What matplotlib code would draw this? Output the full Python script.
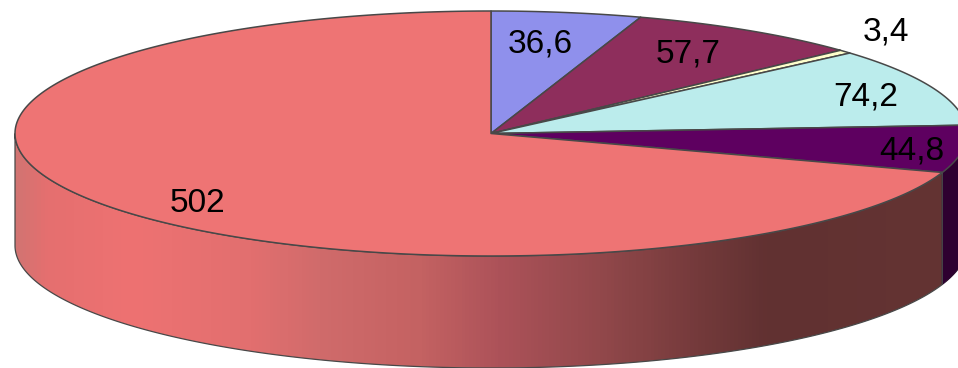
import numpy as np
import matplotlib
matplotlib.use("Agg")
import matplotlib.pyplot as plt
from matplotlib.patches import Polygon
from matplotlib.colors import LinearSegmentedColormap

labels = ["36,6", "57,7", "3,4", "74,2", "44,8", "502"]
values = [36.6, 57.7, 3.4, 74.2, 44.8, 502.0]
colors = ["#8F90EC", "#8E2E5C", "#FFFFCC", "#BBECEC", "#5E0060", "#EE7474"]
label_xy = [(540, 44), (688, 54), (886, 32), (866, 97), (912, 151), (197, 203)]

CX, CY, RX, RY, DEPTH = 491.0, 133.5, 476.0, 122.5, 112.0
EDGE = "#484848"

plt.rcParams["font.family"] = ["Liberation Sans", "DejaVu Sans"]
fig = plt.figure(figsize=(9.58, 3.68), dpi=100)
ax = fig.add_axes([0, 0, 1, 1])
ax.set_xlim(0, 958)
ax.set_ylim(368, 0)
ax.axis("off")


def rim(a0, a1, dy=0.0):
    t = np.radians(np.linspace(a0, a1, max(int(abs(a1 - a0) * 4), 2)))
    return np.column_stack([CX + RX * np.sin(t), CY + dy - RY * np.cos(t)])


edges = np.concatenate([[0], np.cumsum(values)]) / np.sum(values) * 360

# Side walls: each visible front arc between 90 and 270 degrees
for i, col in enumerate(colors):
    a0, a1 = max(edges[i], 90.0), min(edges[i + 1], 270.0)
    if a1 <= a0:
        continue
    pts = np.vstack([rim(a0, a1), rim(a0, a1, DEPTH)[::-1]])
    if i == len(colors) - 1:
        stops = [(15, "#d27472"), (45, "#e56f6f"), (130, "#ee7272"), (250, "#e26f6f"),
                 (320, "#d06b6b"), (420, "#c46262"), (500, "#ac5259"), (600, "#92484b"),
                 (700, "#743a3b"), (770, "#613131"), (945, "#643433")]
        cmap = LinearSegmentedColormap.from_list(
            "wall", [((x - 15) / 930, c) for x, c in stops])
        poly = Polygon(pts, closed=True, fc="none", ec=EDGE, lw=0.9, zorder=2)
        ax.add_patch(poly)
        im = ax.imshow(np.linspace(0, 1, 930)[None, :], cmap=cmap, aspect="auto",
                       extent=[15, 945, 368, 0], zorder=1, interpolation="bilinear")
        clip = Polygon(pts, closed=True, transform=ax.transData)
        im.set_clip_path(clip)
        ax.set_xlim(0, 958)
        ax.set_ylim(368, 0)
    else:
        ax.add_patch(Polygon(pts, closed=True, fc="#2E0030", ec="#2a0a2c", lw=0.8, zorder=2))

# Top face wedges
for i, col in enumerate(colors):
    pts = np.vstack([[CX, CY], rim(edges[i], edges[i + 1])])
    ax.add_patch(Polygon(pts, closed=True, fc=col, ec=EDGE, lw=1.1, zorder=3,
                         joinstyle="round"))

for lab, (x, y) in zip(labels, label_xy):
    ax.text(x, y, lab, fontsize=24, color="black", ha="center", va="center", zorder=5)

fig.savefig("out.png", dpi=100)
